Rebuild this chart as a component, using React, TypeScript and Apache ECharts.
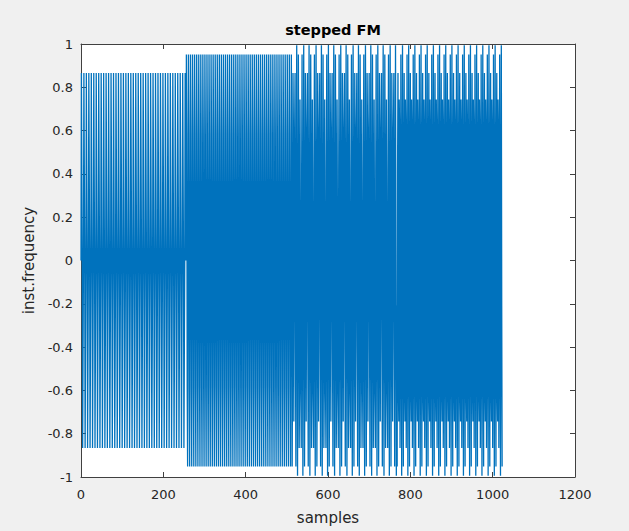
import { useEffect, useRef } from "react";
import * as echarts from "echarts";

// Stepped FM: 1024 samples in four 256-sample steps; frequencies (cycles/sample)
// read from the sample levels visible in each step.
const sampleCount = 1024;
const segmentStarts = [0, 256, 512, 768];
const segmentFreqs = [5 / 30, 6 / 30, 7 / 30, 8 / 30];
const xTickValues = [0, 200, 400, 600, 800, 1000, 1200];
const yTickValues = [-1, -0.8, -0.6, -0.4, -0.2, 0, 0.2, 0.4, 0.6, 0.8, 1];

const TXT = "#262626";
const FONT = "DejaVu Sans";

function buildSignal(): [number, number][] {
  const out: [number, number][] = [];
  for (let n = 0; n < sampleCount; n++) {
    let k = 0;
    for (let s = 0; s < segmentStarts.length; s++) if (n >= segmentStarts[s]) k = s;
    out.push([n, Math.sin(2 * Math.PI * segmentFreqs[k] * n)]);
  }
  return out;
}

export default function App() {
  const ref = useRef<HTMLDivElement>(null);
  useEffect(() => {
    document.body.style.margin = "0";
    if (!ref.current) return;
    const chart = echarts.init(ref.current, undefined, { renderer: "svg" });
    const data = buildSignal();
    const xMin = xTickValues[0];
    const xMax = xTickValues[xTickValues.length - 1];
    const xInt = xTickValues[1] - xTickValues[0];
    const yMin = yTickValues[0];
    const yMax = yTickValues[yTickValues.length - 1];
    const yInt = 0.2;
    const axisLine = { show: true, onZero: false, lineStyle: { color: "#404040", width: 1 } };
    const tick = { show: true, inside: true, length: 5, lineStyle: { color: "#404040", width: 1 } };
    chart.setOption({
      animation: false,
      backgroundColor: "#f0f0f0",
      title: {
        text: "stepped FM",
        left: 328,
        textAlign: "center",
        top: 17,
        textStyle: { fontFamily: FONT, fontSize: 14.5, fontWeight: "bold", color: "#000" },
      },
      grid: {
        left: 81,
        right: 54,
        top: 44,
        bottom: 54,
        show: true,
        backgroundColor: "#ffffff",
        borderWidth: 0,
      },
      xAxis: [
        {
          type: "value",
          min: xMin,
          max: xMax,
          interval: xInt,
          name: "samples",
          nameLocation: "middle",
          nameGap: 33,
          nameTextStyle: { fontFamily: FONT, fontSize: 15, color: TXT },
          axisLine,
          axisTick: tick,
          splitLine: { show: false },
          axisLabel: {
            fontFamily: FONT,
            fontSize: 13,
            color: TXT,
            margin: 11,
            formatter: (v: number) => String(v),
          },
        },
        {
          type: "value",
          position: "top",
          min: xMin,
          max: xMax,
          interval: xInt,
          axisLine,
          axisTick: tick,
          splitLine: { show: false },
          axisLabel: { show: false },
        },
      ],
      yAxis: [
        {
          type: "value",
          min: yMin,
          max: yMax,
          interval: yInt,
          name: "inst.frequency",
          nameLocation: "middle",
          nameGap: 38,
          nameRotate: 90,
          nameTextStyle: { fontFamily: FONT, fontSize: 15, color: TXT },
          axisLine,
          axisTick: tick,
          splitLine: { show: false },
          axisLabel: {
            fontFamily: FONT,
            fontSize: 13,
            color: TXT,
            margin: 8,
            formatter: (v: number) => String(Math.round(v * 10) / 10),
          },
        },
        {
          type: "value",
          position: "right",
          min: yMin,
          max: yMax,
          interval: yInt,
          axisLine,
          axisTick: tick,
          splitLine: { show: false },
          axisLabel: { show: false },
        },
      ],
      series: [
        {
          type: "line",
          data,
          xAxisIndex: 0,
          yAxisIndex: 0,
          showSymbol: false,
          symbol: "none",
          silent: true,
          lineStyle: { color: "#0072BD", width: 1.3 },
        },
      ],
    });
    return () => chart.dispose();
  }, []);
  return <div ref={ref} style={{ width: 629, height: 531 }} />;
}
